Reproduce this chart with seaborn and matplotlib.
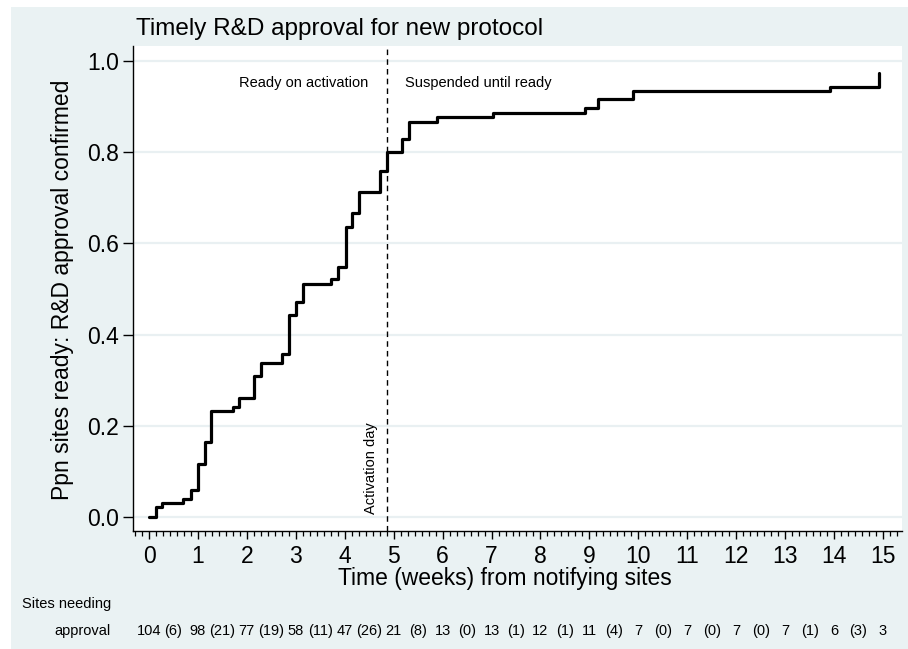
import matplotlib
matplotlib.use('Agg')
import matplotlib.pyplot as plt
import matplotlib.transforms as mtransforms
from matplotlib.patches import Rectangle
from matplotlib.ticker import MultipleLocator, FixedLocator
import pandas as pd
import seaborn as sns

# ---- data ----
weeks = [0.00, 0.14, 0.27, 0.70, 0.86, 1.00, 1.14, 1.27, 1.71, 1.84,
         2.15, 2.29, 2.72, 2.86, 3.00, 3.15, 3.72, 3.86, 4.03, 4.15,
         4.29, 4.72, 4.86, 5.17, 5.31, 5.88, 7.03, 8.91, 9.18, 9.89,
         13.92, 14.92]
prop_ready = [0.000, 0.022, 0.030, 0.040, 0.059, 0.116, 0.165, 0.232, 0.241, 0.260,
              0.310, 0.338, 0.357, 0.443, 0.471, 0.511, 0.522, 0.548, 0.636, 0.667,
              0.713, 0.759, 0.800, 0.829, 0.866, 0.877, 0.886, 0.897, 0.917, 0.934,
              0.943, 0.974]
activation_week = 4.857
x_ticks = list(range(0, 16))
y_ticks = [0.0, 0.2, 0.4, 0.6, 0.8, 1.0]
y_tick_labels = ["0.0", "0.2", "0.4", "0.6", "0.8", "1.0"]
at_risk = [104, 98, 77, 58, 47, 21, 13, 13, 12, 11, 7, 7, 7, 7, 6, 3]
approved_in_week = [6, 21, 19, 11, 26, 8, 0, 1, 1, 4, 0, 0, 0, 1, 3]

title = "Timely R&D approval for new protocol"
xlabel = "Time (weeks) from notifying sites"
ylabel = "Ppn sites ready: R&D approval confirmed"

# ---- style ----
sns.set_theme(style="white")
plt.rcParams['font.family'] = ['Liberation Sans', 'DejaVu Sans']
plt.rcParams['text.color'] = 'black'
plt.rcParams['axes.labelcolor'] = 'black'
plt.rcParams['xtick.color'] = 'black'
plt.rcParams['ytick.color'] = 'black'

W, H = 908, 649
fig = plt.figure(figsize=(W / 100, H / 100), dpi=100)
fig.patch.set_facecolor('white')
fig.patches.append(Rectangle((11 / W, 0), 1, 1 - 7 / H, transform=fig.transFigure,
                             facecolor='#eaf2f3', edgecolor='none', zorder=-10))

ax = fig.add_axes([133 / W, (H - 531) / H, 769 / W, 485 / H])
ax.set_facecolor('white')

df = pd.DataFrame({'week': weeks, 'prop': prop_ready})
sns.lineplot(data=df, x='week', y='prop', drawstyle='steps-post', color='black',
             linewidth=2.3, ax=ax, estimator=None, sort=True)

ax.axvline(activation_week, color='black', lw=1.0, ls=(0, (4, 3)))

ax.set_xlim(-16 / 48.93, 15 + 19 / 48.93)
ax.set_ylim(-14 / 456, 1 + 15 / 456)

ax.xaxis.set_major_locator(FixedLocator(x_ticks))
ax.xaxis.set_minor_locator(MultipleLocator(1 / 7))
ax.set_xticks(x_ticks)
ax.set_xticklabels([str(t) for t in x_ticks])
ax.set_yticks(y_ticks)
ax.set_yticklabels(y_tick_labels)

ax.tick_params(axis='x', which='major', direction='out', length=6, width=1,
               color='black', labelcolor='black', labelsize=16.5, pad=4, bottom=True)
ax.tick_params(axis='x', which='minor', direction='out', length=3.5, width=0.9,
               color='black', bottom=True)
ax.tick_params(axis='y', which='major', direction='out', length=7, width=1,
               color='black', labelcolor='black', labelsize=16.5, pad=3, left=True)
ax.tick_params(axis='y', which='minor', left=False)

ax.yaxis.grid(True, color='#e9f0f2', lw=1.6)
ax.xaxis.grid(False)
ax.set_axisbelow(True)

for s in ['top', 'right']:
    ax.spines[s].set_visible(False)
for s in ['left', 'bottom']:
    ax.spines[s].set_visible(True)
    ax.spines[s].set_color('black')
    ax.spines[s].set_linewidth(1.0)

ax.set_xlabel(xlabel, fontsize=16.5, va='center', color='black')
ax.xaxis.set_label_coords((505 - 133) / 769, (531 - 579) / 485)
ax.set_ylabel(ylabel, fontsize=16.5, va='center', color='black')
ax.yaxis.set_label_coords((63 - 133) / 769, (531 - 290) / 485)

fig.text(136 / W, 1 - 29 / H, title, fontsize=17.5, ha='left', va='center', color='black')

# annotations
ax.text(4.476, 0.952, "Ready on activation", fontsize=10.5, ha='right', va='center', color='black')
ax.text(5.23, 0.952, "Suspended until ready", fontsize=10.5, ha='left', va='center', color='black')
ax.text(4.68, 0.006, "Activation day", fontsize=10.5, rotation=90, ha='right', va='bottom',
        color='black')

# number-at-risk table
tr = mtransforms.blended_transform_factory(ax.transData, fig.transFigure)
fig.text(111 / W, 1 - 604 / H, "Sites needing", fontsize=10.5, ha='right', va='center', color='black')
fig.text(111 / W, 1 - 631 / H, "approval", fontsize=10.5, ha='right', va='center', color='black')
for i, n in enumerate(at_risk):
    ax.text(x_ticks[i], 1 - 631 / H, str(n), transform=tr, fontsize=10.5,
            ha='center', va='center', clip_on=False, color='black')
for i, e in enumerate(approved_in_week):
    ax.text(x_ticks[i] + 0.5, 1 - 631 / H, f"({e})", transform=tr, fontsize=10.5,
            ha='center', va='center', clip_on=False, color='black')

fig.savefig('out.png', dpi=100)
